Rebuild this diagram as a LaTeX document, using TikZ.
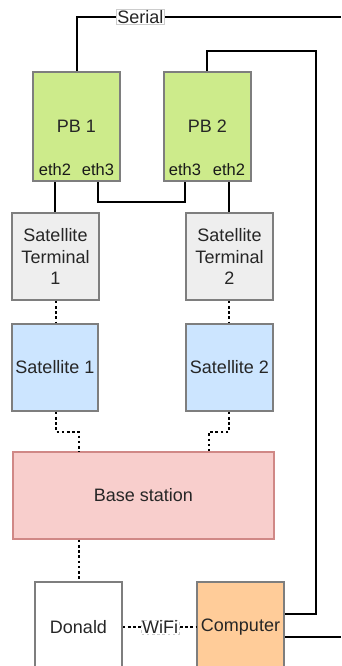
\documentclass[tikz,border=0pt]{standalone}
\usepackage{fontspec}
\setmainfont{Liberation Sans}
\begin{document}
\begin{tikzpicture}[x=1pt,y=-1pt,
  box/.style={draw=boxgray,line width=1.5pt,inner sep=0pt,align=center,font=\fontsize{18}{21.5}\selectfont,text=black!85},
  wire/.style={line width=2pt,black},
  dotwire/.style={line width=2.6pt,black,dash pattern=on 2.6pt off 2.6pt},
  lbl/.style={draw=black!20,fill=white,line width=0.6pt,inner sep=0.6pt,font=\fontsize{18}{21}\selectfont,text=black!85},
  port/.style={font=\fontsize{16.5}{19}\selectfont,inner sep=0pt,text=black!90}]
\definecolor{boxgray}{HTML}{7E7E7E}
\definecolor{pbgreen}{HTML}{CDEB8B}
\definecolor{stgray}{HTML}{EEEEEE}
\definecolor{satblue}{HTML}{CCE5FF}
\definecolor{basered}{HTML}{F8CECC}
\definecolor{basestroke}{HTML}{D08886}
\definecolor{comporange}{HTML}{FFCC99}
\useasboundingbox (0,0) rectangle (341,666);
% boxes
\node[box,fill=pbgreen,minimum width=87pt,minimum height=109pt] (pb1) at (76.5,126.5) {PB 1};
\node[box,fill=pbgreen,minimum width=87pt,minimum height=109pt] (pb2) at (207.5,126.5) {PB 2};
\node[port] (p1e2) at (55,169.5) {eth2};
\node[port] (p1e3) at (98,169.5) {eth3};
\node[port] (p2e3) at (185,169.5) {eth3};
\node[port] (p2e2) at (229,169.5) {eth2};
\node[box,fill=stgray,minimum width=87pt,minimum height=87pt] (st1) at (55.5,256.5) {Satellite\\Terminal\\1};
\node[box,fill=stgray,minimum width=87pt,minimum height=87pt] (st2) at (229.5,256.5) {Satellite\\Terminal\\2};
\node[box,fill=satblue,minimum width=86pt,minimum height=87pt] (s1) at (55,367.5) {Satellite 1};
\node[box,fill=satblue,minimum width=87pt,minimum height=87pt] (s2) at (229.5,367.5) {Satellite 2};
\node[box,fill=basered,draw=basestroke,minimum width=261pt,minimum height=87pt] (base) at (143.5,495.5) {Base station};
\node[box,fill=white,minimum width=87pt,minimum height=87pt] (don) at (78.5,625.5) {};
\node[box,fill=comporange,minimum width=87pt,minimum height=87pt] (comp) at (240.5,625.5) {};
\node[font=\fontsize{18}{21.5}\selectfont,text=black!85,inner sep=0pt] (dontxt) at (78.5,627) {Donald};
\node[font=\fontsize{18}{21.5}\selectfont,text=black!85,inner sep=0pt] (comptxt) at (240.5,627) {Computer};
% coordinates
\coordinate (ser1) at (77,17);
\coordinate (serR) at (341,17);
\coordinate (c2a) at (207,51);
\coordinate (c2b) at (316,51);
\coordinate (c2c) at (316,614);
\coordinate (cR) at (341,636.5);
\coordinate (wifiy) at (0,627);
% wires
\draw[wire] (pb1.north -| ser1) -- (ser1) -- (serR)
  node[lbl,pos=0.24] (serial) {Serial};
\draw[wire] (pb2.north -| c2a) -- (c2a) -- (c2b) -- (c2c) -- (comp.east |- c2c);
\draw[wire] (comp.east |- cR) -- (cR);
\draw[wire] (pb1.south -| p1e2) -- (st1.north -| p1e2);
\draw[wire] (pb1.south -| p1e3) -- ++(0,20) -| (pb2.south -| p2e3);
\draw[wire] (pb2.south -| p2e2) -- (st2.north -| p2e2);
% dotted links
\draw[dotwire] (st1.south -| 56,0) -- (s1.north -| 56,0);
\draw[dotwire] (st2.south -| 229,0) -- (s2.north -| 229,0);
\draw[dotwire] (s1.south -| 56,0) -- (56,432) -- (79,432) -- (base.north -| 79,0);
\draw[dotwire] (s2.south -| 229,0) -- (229,432) -- (209,432) -- (base.north -| 209,0);
\draw[dotwire] (base.south -| 79,0) -- (don.north -| 79,0);
\draw[dotwire] (don.east |- wifiy) -- (comp.west |- wifiy) node[lbl,pos=0.51] (wifi) {WiFi};
\end{tikzpicture}
\end{document}
